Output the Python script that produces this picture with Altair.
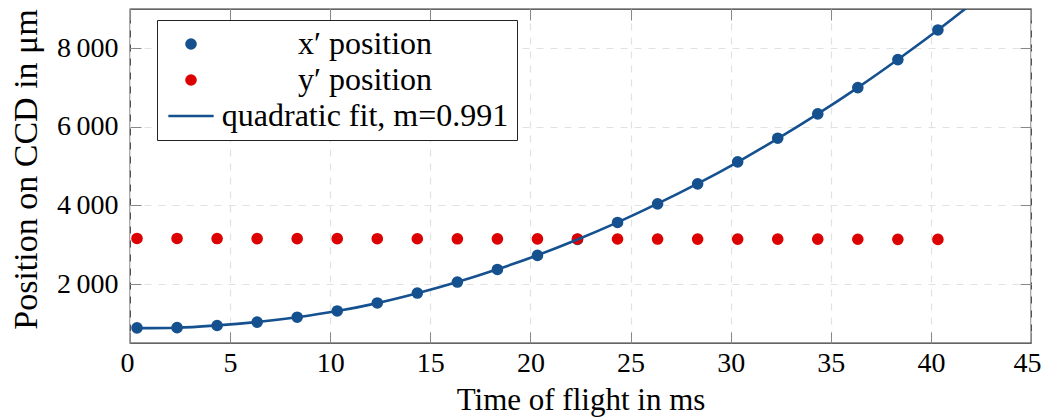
import altair as alt
import pandas as pd

# ---- data ----
time_ms = [0.35, 2.35, 4.35, 6.35, 8.35, 10.35, 12.35, 14.35, 16.35, 18.35,
           20.35, 22.35, 24.35, 26.35, 28.35, 30.35, 32.35, 34.35, 36.35, 38.35, 40.35]
x_prime = [885, 890, 945, 1030, 1156, 1316, 1519, 1772, 2051, 2371,
           2729, 3136, 3568, 4042, 4551, 5110, 5712, 6331, 7000, 7712, 8466]
y_prime = [3160, 3160, 3158, 3157, 3156, 3155, 3154, 3153, 3152, 3151,
           3150, 3148, 3147, 3146, 3145, 3144, 3143, 3142, 3140, 3138, 3136]
fit_t = [0.35, 2.35, 4.35, 6.35, 8.35, 10.35, 12.35, 14.35, 16.35, 18.35,
         20.35, 22.35, 24.35, 26.35, 28.35, 30.35, 32.35, 34.35, 36.35, 38.35, 40.35, 42.35]
fit_v = [878, 890, 948, 1035, 1155, 1312, 1515, 1765, 2050, 2375,
         2735, 3135, 3570, 4045, 4555, 5105, 5700, 6330, 7000, 7715, 8465, 9260]

series_names = ["x\u2032 position", "y\u2032 position", "quadratic fit, m=0.991"]
colors = ["#15508f", "#dc0000", "#15508f"]
x_ticks = [0, 5, 10, 15, 20, 25, 30, 35, 40, 45]
y_ticks = [2000, 4000, 6000, 8000]

df_x = pd.DataFrame({"t": time_ms, "v": x_prime, "series": series_names[0]})
df_y = pd.DataFrame({"t": time_ms, "v": y_prime, "series": series_names[1]})
df_fit = pd.DataFrame({"t": fit_t, "v": fit_v, "series": series_names[2]})

FONT = "Liberation Serif"
TICK = 11
PT_SIZE = 135

xscale = alt.Scale(domain=[0, 45], nice=False, zero=False)
yscale = alt.Scale(domain=[500, 9000], nice=False, zero=False)

fill_scale = alt.Scale(domain=series_names, range=colors)
line_path = "M-3.9,-0.2L3.9,-0.2L3.9,0.2L-3.9,0.2Z"
shape_scale = alt.Scale(domain=series_names, range=["circle", "circle", line_path])

legend = alt.Legend(
    title=None, orient="none", legendX=27, legendY=11,
    labelFont=FONT, labelFontSize=32, labelColor="black",
    labelAlign="center", labelOffset=158, labelLimit=0,
    symbolSize=PT_SIZE, symbolOffset=10, rowPadding=4, padding=8,
    strokeColor="#222", fillColor="white", symbolStrokeWidth=0,
)

grid_x = alt.Axis(orient="bottom", grid=True, gridColor="#e2e2e2", gridDash=[7, 7],
                  gridWidth=1.2, ticks=False, labels=False, domain=False, title=None,
                  values=x_ticks)
grid_y = alt.Axis(orient="left", grid=True, gridColor="#e2e2e2", gridDash=[7, 7],
                  gridWidth=1.2, ticks=False, labels=False, domain=False, title=None,
                  values=y_ticks)

main_x = alt.Axis(orient="bottom", offset=-TICK, tickSize=TICK, tickColor="#888",
                  tickWidth=1, domain=False, grid=False, values=x_ticks,
                  labelFlush=True, labelFlushOffset=10, labelOverlap=False,
                  labelFont=FONT, labelFontSize=28, labelColor="black", labelPadding=6,
                  title="Time of flight in ms", titleFont=FONT, titleFontSize=31,
                  titleFontWeight="normal", titleColor="black", titlePadding=8)
main_y = alt.Axis(orient="left", offset=-TICK, tickSize=TICK, tickColor="#888",
                  tickWidth=1, domain=False, grid=False, values=y_ticks,
                  labelFlush=False, labelOverlap=False,
                  labelExpr="replace(format(datum.value, ','), ',', '\u2009')",
                  labelFont=FONT, labelFontSize=28, labelColor="black", labelPadding=12,
                  title="Position on CCD in \u03bcm", titleFont=FONT, titleFontSize=34,
                  titleFontWeight="normal", titleColor="black", titlePadding=13,
                  titleY=160)

top_x = alt.Axis(orient="top", offset=-TICK, tickSize=TICK, tickColor="#888",
                 tickWidth=1, domain=False, grid=False, labels=False, title=None,
                 values=x_ticks)
right_y = alt.Axis(orient="right", offset=-TICK, tickSize=TICK, tickColor="#888",
                   tickWidth=1, domain=False, grid=False, labels=False, title=None,
                   values=y_ticks)

blue = alt.Chart(df_x).mark_point(filled=True, opacity=1, size=PT_SIZE).encode(
    x=alt.X("t:Q", scale=xscale, axis=grid_x),
    y=alt.Y("v:Q", scale=yscale, axis=grid_y),
    fill=alt.Fill("series:N", scale=fill_scale, legend=legend),
    shape=alt.Shape("series:N", scale=shape_scale, legend=legend),
)

red = alt.Chart(df_y).mark_point(filled=True, opacity=1, size=PT_SIZE).encode(
    x=alt.X("t:Q", scale=xscale, axis=main_x),
    y=alt.Y("v:Q", scale=yscale, axis=main_y),
    fill=alt.Fill("series:N", scale=fill_scale, legend=legend),
    shape=alt.Shape("series:N", scale=shape_scale, legend=legend),
)

fit = alt.Chart(df_fit).mark_line(color=colors[2], strokeWidth=2.6, clip=True,
                                  interpolate="monotone").encode(
    x=alt.X("t:Q", scale=xscale, axis=top_x),
    y=alt.Y("v:Q", scale=yscale, axis=right_y),
)

chart = alt.layer(blue, red, fit).resolve_axis(
    x="independent", y="independent"
).properties(
    width=901, height=334,
    autosize=alt.AutoSizeParams(type="none"),
    padding={"left": 122, "top": 1, "right": 10, "bottom": 76},
).configure(
    font=FONT
).configure_view(
    stroke="#333", strokeWidth=1.3
).configure_legend(
    labelFont=FONT
)

chart.save("out.html", embed_options={"renderer": "svg", "actions": False})
